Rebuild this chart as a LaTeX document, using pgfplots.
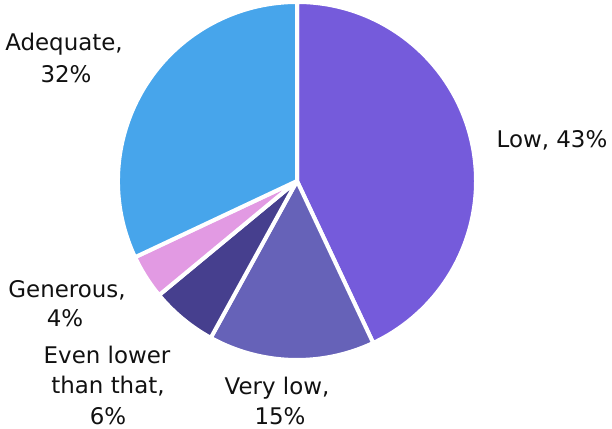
\documentclass[border=0pt]{standalone}
\usepackage{pgfplots}
\usepackage{pgfplotstable}
\pgfplotsset{compat=1.18}
\usepackage{fontspec}
\setmainfont{DejaVu Sans}
\definecolor{cLow}{HTML}{755BDB}
\definecolor{cVeryLow}{HTML}{6662B8}
\definecolor{cEven}{HTML}{463F8E}
\definecolor{cGen}{HTML}{E29AE3}
\definecolor{cAde}{HTML}{47A5EB}
\definecolor{txt}{HTML}{111111}
\pgfplotstableread{
label value color
Low 43 cLow
VeryLow 15 cVeryLow
EvenLower 6 cEven
Generous 4 cGen
Adequate 32 cAde
}\piedata
\begin{document}
\begin{tikzpicture}
\begin{axis}[width=612bp,height=429bp,scale only axis,xmin=0,xmax=612,ymin=0,ymax=429,hide axis,clip=false]
\path (axis cs:0,0) rectangle (axis cs:612,429);
\pgfplotstablegetrowsof{\piedata}
\pgfmathtruncatemacro{\nrows}{\pgfplotsretval-1}
\def\startang{90}
\pgfplotsforeachungrouped \i in {0,...,\nrows}{%
 \pgfplotstablegetelem{\i}{value}\of{\piedata}\let\val\pgfplotsretval
 \pgfplotstablegetelem{\i}{color}\of{\piedata}\let\col\pgfplotsretval
 \pgfmathsetmacro{\endang}{\startang-3.6*\val}%
 \edef\temp{\noexpand\fill[fill=\col,draw=white,line width=4bp,line join=round] (axis cs:297,248) -- ++(\startang:179bp) arc[start angle=\startang,end angle=\endang,radius=179bp] -- cycle;}%
 \temp
 \let\startang\endang
}
\tikzset{lab/.style={anchor=base,inner sep=0pt,text=txt,font=\fontsize{23}{28}\selectfont}}
\node[lab] at (axis cs:552,281) {Low, 43\%};
\node[lab] at (axis cs:277,34) {Very low,};
\node[lab] at (axis cs:280,5) {15\%};
\node[lab] at (axis cs:107,65) {Even lower};
\node[lab] at (axis cs:108,35) {than that,};
\node[lab] at (axis cs:108,5) {6\%};
\node[lab] at (axis cs:67,131) {Generous,};
\node[lab] at (axis cs:65,102) {4\%};
\node[lab] at (axis cs:64,378) {Adequate,};
\node[lab] at (axis cs:66,346) {32\%};
\end{axis}
\end{tikzpicture}
\end{document}
